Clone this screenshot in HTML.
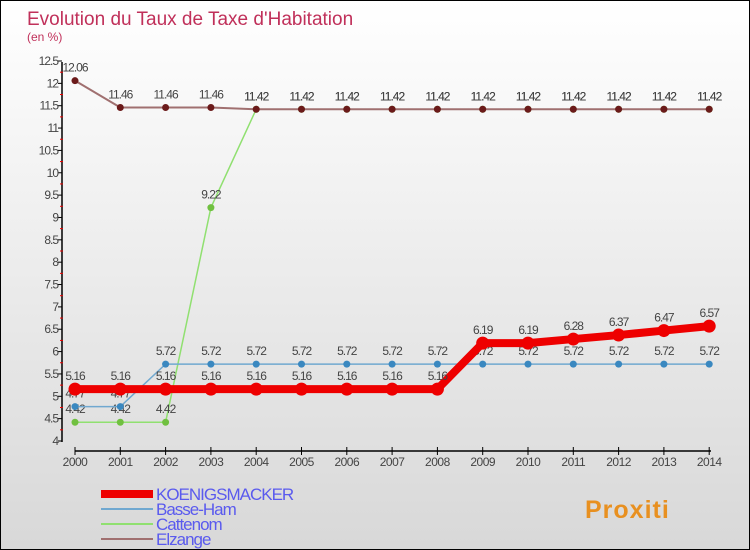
<!DOCTYPE html>
<html><head><meta charset="utf-8"><style>
body{margin:0}
#c{width:748px;height:548px;border:1px solid #000;background:linear-gradient(#fff,#d8d8d8);position:relative;overflow:hidden;font-family:"Liberation Sans",sans-serif}
</style></head><body>
<div id="c">
<svg id="s" width="748" height="548" xmlns="http://www.w3.org/2000/svg"></svg>
</div>
<script>
const years=[2000,2001,2002,2003,2004,2005,2006,2007,2008,2009,2010,2011,2012,2013,2014];
const koenigs=[5.16,5.16,5.16,5.16,5.16,5.16,5.16,5.16,5.16,6.19,6.19,6.28,6.37,6.47,6.57];
const basse=[4.77,4.77,5.72,5.72,5.72,5.72,5.72,5.72,5.72,5.72,5.72,5.72,5.72,5.72,5.72];
const catt=[4.42,4.42,4.42,9.22,11.42,11.42,11.42,11.42,11.42,11.42,11.42,11.42,11.42,11.42,11.42];
const elz=[12.06,11.46,11.46,11.46,11.42,11.42,11.42,11.42,11.42,11.42,11.42,11.42,11.42,11.42,11.42];
const yTicks=[4,4.5,5,5.5,6,6.5,7,7.5,8,8.5,9,9.5,10,10.5,11,11.5,12,12.5];
const s=document.getElementById('s');const NS='http://www.w3.org/2000/svg';
function X(i){return 74+i*45.3}
function Y(v){return 440-(v-4)*380/8.5}
function mk(t,a,p){const e=document.createElementNS(NS,t);for(const k in a)e.setAttribute(k,a[k]);(p||s).appendChild(e);return e}
function tx(x,y,str,a){const e=mk('text',Object.assign({x:x,y:y,'font-size':12,fill:'#444'},a));e.textContent=str;return e}
let t=tx(26,24,'Evolution du Taux de Taxe d\'Habitation',{'font-size':19,fill:'#c0305a'});

t=tx(26,40,'(en %)',{'font-size':12,fill:'#c0305a'});

let ax=mk('line',{x1:61,y1:61,x2:61,y2:441,stroke:'#000','stroke-width':1.5});

yTicks.forEach((v,i)=>{mk('line',{x1:57,x2:61,y1:Y(v),y2:Y(v),stroke:'#000'});
 if(i<yTicks.length-1)mk('line',{x1:59,x2:62,y1:Y(v+0.25),y2:Y(v+0.25),stroke:'#e00'});
 let l=tx(57,Y(v)+4,String(v),{'text-anchor':'end','letter-spacing':-1});
 });
ax=mk('line',{x1:74,y1:450,x2:710,y2:450,stroke:'#000','stroke-width':1.5});

years.forEach((y,i)=>{mk('line',{x1:X(i),x2:X(i),y1:446,y2:454,stroke:'#000'});
 let l=tx(X(i),465,String(y),{'text-anchor':'middle','letter-spacing':-0.5});
 });
function series(d,col,w,r,name,dark){
 const g=mk('g',{});
 mk('polyline',{points:d.map((v,i)=>X(i)+','+Y(v)).join(' '),fill:'none',stroke:col,'stroke-width':w},g);
 d.forEach((v,i)=>{const c=mk('circle',{cx:X(i),cy:Y(v),r:r,fill:dark},g);
  
  tx(X(i),Y(v)-9,String(v),{'text-anchor':'middle','letter-spacing':-1},g);});
}
series(catt,'#90e070',1.5,3.5,'series-cattenom','#70c040');
series(elz,'#a07070',2,3.5,'series-elzange','#6b1a1a');
series(basse,'#70a8d0',1.5,3.5,'series-basse-ham','#3a88c0');
series(koenigs,'#ee0000',8,6.5,'series-koenigsmacker','#ee0000');
const leg=[['KOENIGSMACKER','#ee0000',8],['Basse-Ham','#70a8d0',2],['Cattenom','#90e070',2],['Elzange','#a07070',2]];
leg.forEach((l,i)=>{const y=493+i*15;const g=mk('g',{});
 mk('line',{x1:100,x2:152,y1:y,y2:y,stroke:l[1],'stroke-width':l[2]},g);
 tx(155,y+6,l[0],{'font-size':17,fill:'#5a5aee','letter-spacing':-1},g);});
t=tx(584,517,'Proxiti',{'font-size':25,'font-weight':'bold',fill:'#e89020','letter-spacing':1});

</script>
</body></html>
